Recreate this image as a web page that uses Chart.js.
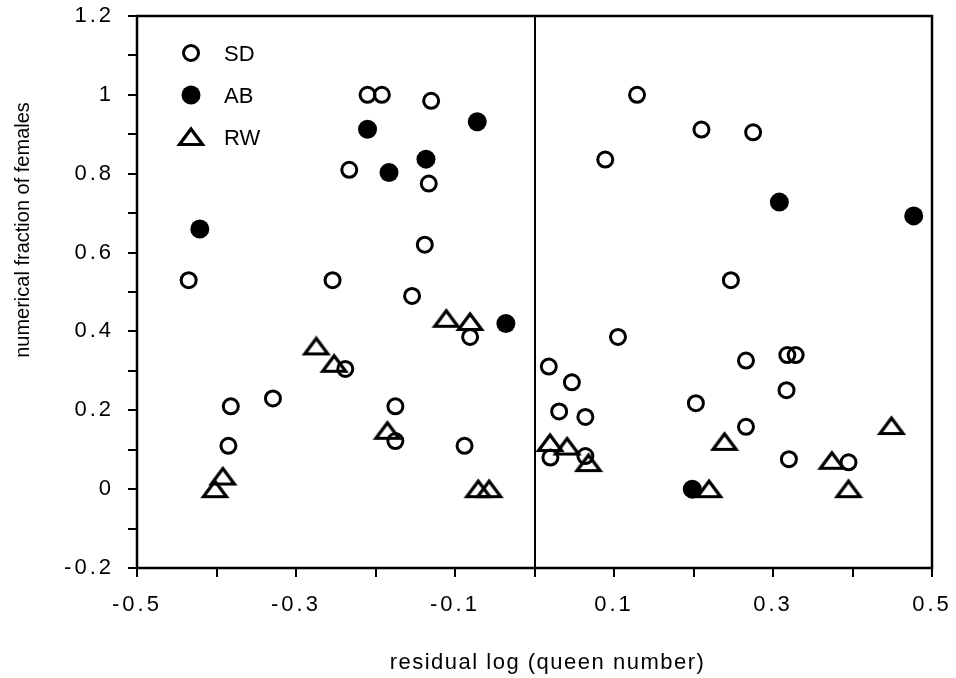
<!DOCTYPE html>
<html>
<head>
<meta charset="utf-8">
<script src="https://cdn.jsdelivr.net/npm/chart.js@4.4.1/dist/chart.umd.min.js"></script>
<style>
  html, body { margin: 0; padding: 0; background: #fff; }
  #wrap { width: 956px; height: 678px; position: relative; }
</style>
</head>
<body>
<div id="wrap"><canvas id="chart"></canvas></div>
<script>
// SD - open circles
const sdX = [-0.435, -0.385, -0.382, -0.329, -0.254, -0.238, -0.233, -0.210, -0.192, -0.175, -0.175,
             -0.154, -0.138, -0.133, -0.130, -0.088, -0.081,
             0.018, 0.020, 0.031, 0.047, 0.064, 0.064, 0.089, 0.105, 0.129, 0.203, 0.210, 0.247,
             0.266, 0.266, 0.275, 0.317, 0.318, 0.3285, 0.320, 0.395];
const sdY = [0.53, 0.11, 0.21, 0.23, 0.53, 0.305, 0.81, 1.0, 1.0, 0.21, 0.122,
             0.49, 0.62, 0.775, 0.985, 0.11, 0.386,
             0.311, 0.08, 0.197, 0.271, 0.183, 0.084, 0.836, 0.386, 1.0, 0.218, 0.912, 0.53,
             0.326, 0.158, 0.905, 0.251, 0.34, 0.34, 0.076, 0.068];

// AB - filled circles
const abX = [-0.421, -0.210, -0.183, -0.1365, -0.072, -0.036, 0.1985, 0.308, 0.477];
const abY = [0.66, 0.913, 0.803, 0.837, 0.932, 0.42, 0.0, 0.728, 0.693];

// RW - open triangles
const rwX = [-0.402, -0.392, -0.2745, -0.252, -0.185, -0.111, -0.081, -0.0707, -0.057,
             0.0195, 0.041, 0.068, 0.2195, 0.239, 0.374, 0.395, 0.449];
const rwY = [0.0, 0.032, 0.362, 0.318, 0.148, 0.432, 0.424, 0.0, 0.0,
             0.117, 0.108, 0.066, 0.0, 0.12, 0.072, 0.0, 0.16];

const xTickLabels = ['-0.5', '-0.3', '-0.1', '0.1', '0.3', '0.5'];
const yTickLabels = ['-0.2', '0', '0.2', '0.4', '0.6', '0.8', '1', '1.2'];

const FONT = '"Liberation Sans", Arial, Helvetica, sans-serif';

function pts(xs, ys) {
  return xs.map((x, i) => ({ x, y: ys[i] }));
}

function triangleMark() {
  const c = document.createElement('canvas');
  c.width = 30; c.height = 22;
  const g = c.getContext('2d');
  g.lineWidth = 3.2;
  g.strokeStyle = '#000';
  g.lineJoin = 'miter';
  g.beginPath();
  g.moveTo(15, 3); g.lineTo(26.5, 18.5); g.lineTo(3.5, 18.5);
  g.closePath();
  g.stroke();
  return c;
}

// wrap a scale's drawing step with letter spacing / small offset
function spaced(scale, method, gap, dx, dy) {
  if (scale['_p_' + method]) return;
  const orig = scale[method];
  scale[method] = function (...args) {
    const ctx = this.ctx;
    ctx.save();
    ctx.letterSpacing = gap;
    ctx.translate(dx, dy);
    orig.apply(this, args);
    ctx.restore();
  };
  scale['_p_' + method] = true;
}

const textLook = {
  id: 'textLook',
  afterLayout(chart) {
    const { x, y } = chart.scales;
    spaced(x, 'drawLabels', '3px', 0, 0);
    spaced(y, 'drawLabels', '3px', 0, 0);
    spaced(x, 'drawTitle', '1.5px', 13, 0);
    spaced(y, 'drawTitle', '0px', 0, -62);
  }
};

const frame = {
  id: 'frame',
  beforeDatasetsDraw(chart) {
    const { ctx, chartArea: a } = chart;
    ctx.save();
    ctx.lineWidth = 2.5;
    ctx.strokeStyle = '#000';
    ctx.strokeRect(a.left, a.top, a.right - a.left, a.bottom - a.top);
    ctx.restore();
  }
};

const insideLegend = {
  id: 'insideLegend',
  afterDraw(chart) {
    const ctx = chart.ctx;
    ctx.save();
    ctx.letterSpacing = '0px';
    chart.data.datasets.forEach((ds, i) => {
      const y = 53 + i * 42;
      ctx.fillStyle = ds.pointBackgroundColor;
      ctx.strokeStyle = ds.pointBorderColor;
      ctx.lineWidth = ds.pointBorderWidth;
      Chart.helpers.drawPoint(ctx, {
        pointStyle: ds.pointStyle, radius: ds.pointRadius,
        borderWidth: ds.pointBorderWidth, rotation: 0
      }, 191, y);
      ctx.fillStyle = '#000';
      ctx.font = '22px ' + FONT;
      ctx.textBaseline = 'middle';
      ctx.textAlign = 'left';
      ctx.fillText(ds.label, 224, y + 2);
    });
    ctx.restore();
  }
};

const zeroLine = c => (c.tick && c.tick.value === 0 ? '#000' : 'rgba(0,0,0,0)');

new Chart(document.getElementById('chart'), {
  type: 'scatter',
  data: {
    datasets: [
      {
        label: 'SD',
        data: pts(sdX, sdY),
        pointStyle: 'circle',
        pointRadius: 7.5,
        pointHoverRadius: 7.5,
        pointBorderWidth: 3,
        pointBorderColor: '#000',
        pointBackgroundColor: 'rgba(0,0,0,0)'
      },
      {
        label: 'AB',
        data: pts(abX, abY),
        pointStyle: 'circle',
        pointRadius: 9.5,
        pointHoverRadius: 9.5,
        pointBorderWidth: 0,
        pointBorderColor: '#000',
        pointBackgroundColor: '#000'
      },
      {
        label: 'RW',
        data: pts(rwX, rwY),
        pointStyle: triangleMark(),
        pointRadius: 10,
        pointHoverRadius: 10,
        pointBorderWidth: 0,
        pointBorderColor: '#000',
        pointBackgroundColor: 'rgba(0,0,0,0)'
      }
    ]
  },
  options: {
    responsive: true,
    maintainAspectRatio: false,
    animation: false,
    events: [],
    layout: { padding: { top: 16, right: 24, bottom: 0, left: 0 } },
    plugins: { legend: { display: false }, tooltip: { enabled: false } },
    scales: {
      x: {
        type: 'linear',
        min: -0.5,
        max: 0.5,
        afterFit: s => { s.height = 110; s.paddingLeft = 0; s.paddingRight = 0; },
        border: { display: false },
        grid: { color: zeroLine, lineWidth: 2, tickColor: '#000', tickWidth: 2, tickLength: 9 },
        ticks: {
          stepSize: 0.1,
          autoSkip: false,
          maxRotation: 0,
          padding: 15,
          color: '#000',
          font: { family: FONT, size: 22 },
          callback: v => {
            const s = String(Math.round(v * 10) / 10);
            return xTickLabels.includes(s) ? s : '';
          }
        },
        title: {
          display: true,
          text: 'residual log (queen number)',
          color: '#000',
          font: { family: FONT, size: 22 },
          padding: { top: 0, bottom: 2 }
        }
      },
      y: {
        type: 'linear',
        min: -0.2,
        max: 1.2,
        afterFit: s => { s.width = 137; s.paddingTop = 0; s.paddingBottom = 0; },
        border: { display: false },
        grid: { color: zeroLine, lineWidth: 2, tickColor: '#000', tickWidth: 2, tickLength: 9 },
        ticks: {
          stepSize: 0.1,
          autoSkip: false,
          padding: 14,
          color: '#000',
          font: { family: FONT, size: 22 },
          callback: v => {
            const s = String(Math.round(v * 10) / 10);
            return yTickLabels.includes(s) ? s : '';
          }
        },
        title: {
          display: true,
          text: 'numerical fraction of females',
          color: '#000',
          font: { family: FONT, size: 20 },
          padding: { top: 11, bottom: 0 }
        }
      }
    }
  },
  plugins: [textLook, frame, insideLegend]
});
</script>
</body>
</html>
